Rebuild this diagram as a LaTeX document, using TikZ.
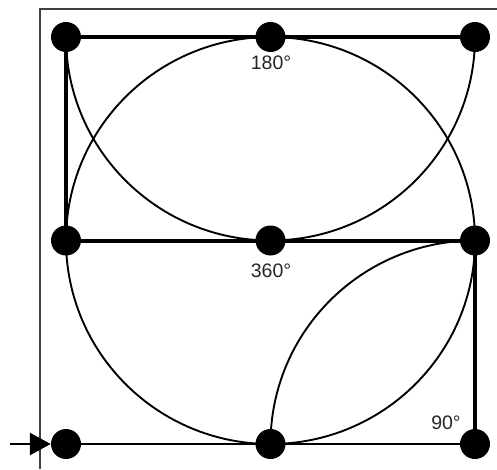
\documentclass[tikz,border=0pt]{standalone}
\usepackage{fontspec}
\setmainfont{Liberation Sans}
\usetikzlibrary{arrows.meta}
\begin{document}
\begin{tikzpicture}[x=1pt,y=1pt,
  dot/.style={circle,fill=black,minimum size=30pt,inner sep=0pt},
  heavyline/.style={line width=4pt},
  midline/.style={line width=3.2pt},
  thinarc/.style={line width=1.9pt},
  framel/.style={line width=1.6pt,black!75},
  lbl/.style={font=\fontsize{19.5}{19.5}\selectfont,text=black!85}]
\useasboundingbox (0,0) rectangle (497,469);
\draw[framel] (40,0) -- (40,460) -- (497,460);
\node[dot] (tl) at (66,432) {};
\node[dot] (tm) at (270.5,432) {};
\node[dot] (tr) at (475,432) {};
\node[dot] (ml) at (66,228.5) {};
\node[dot] (mm) at (270.5,228.5) {};
\node[dot] (mr) at (475,228.5) {};
\node[dot] (bl) at (66,25) {};
\node[dot] (bm) at (270.5,25) {};
\node[dot] (br) at (475,25) {};
\draw[midline] (tl.center) -- (tr.center);
\draw[heavyline] (tl.center) -- (ml.center);
\draw[heavyline] (ml.center) -- (mr.center);
\draw[heavyline] (mr.center) -- (br.center);
\draw[line width=2.8pt] (bl.center) -- (br.center);
\draw[thinarc] (mm.center) ellipse [x radius=204.5, y radius=203.5];
\draw[thinarc] (tl.center) arc [start angle=180, end angle=360, x radius=204.5, y radius=203.5];
\draw[thinarc] (bm.center) arc [start angle=180, end angle=90, x radius=204.5, y radius=203.5];
\draw[line width=2.8pt, -{Triangle[length=21pt,width=22pt]}] (10,25) -- (bl.west);
\node[lbl] (l180) at (271,406) {180°};
\node[lbl] (l360) at (271,198) {360°};
\node[lbl] (l90) at (446,46) {90°};
\end{tikzpicture}
\end{document}
